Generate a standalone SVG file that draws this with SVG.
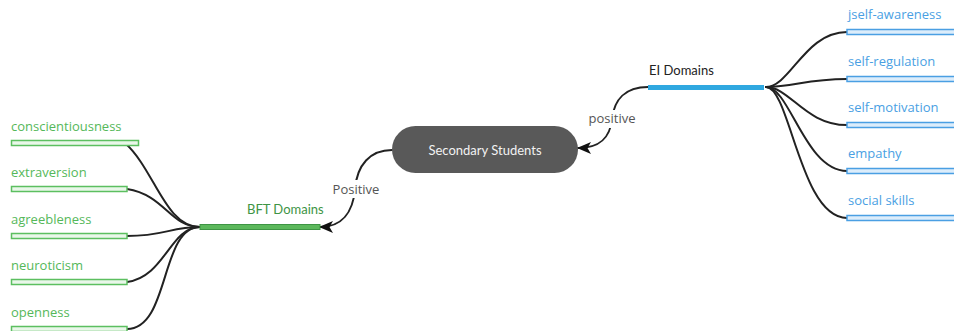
<svg xmlns="http://www.w3.org/2000/svg" width="954" height="331" viewBox="0 0 954 331">
<defs>
<style>
.con{fill:none;stroke:#222;stroke-width:2;stroke-linecap:round}
.lbl{font-family:"Open Sans","Noto Sans",sans-serif;font-size:13px}
.main{font-family:Lato,"Open Sans",sans-serif;font-size:13px}
.blue{fill:#4a9fe3}
.green{fill:#55b85a}
.bbar{fill:#dcedfb;stroke:#4a9fe3;stroke-width:1.5}
.gbar{fill:#e9f7e9;stroke:#5cbf60;stroke-width:1.5}
.rel{font-family:"Open Sans","Noto Sans",sans-serif;font-size:13px;fill:#555;text-anchor:middle}
</style>
<marker id="arr" viewBox="0 0 14 12" refX="13" refY="6" markerWidth="14" markerHeight="12" markerUnits="userSpaceOnUse" orient="auto">
<path d="M0,0 L14,6 L0,12 L3.5,6 Z" fill="#111"/>
</marker>
</defs>
<rect width="954" height="331" fill="#fff"/>

<g id="connectors">
<path class="con" d="M766,87 C790,87 805,32 847,32"/>
<path class="con" d="M766,87 C795,87 805,79 847,79"/>
<path class="con" d="M766,87 C790,87 805,125 847,125"/>
<path class="con" d="M766,87 C790,87 805,171 847,171"/>
<path class="con" d="M766,87 C790,87 800,218 847,218"/>
<path class="con" d="M125,143 C155,170 165,227 200,227"/>
<path class="con" d="M127,189 C165,195 170,227 200,227"/>
<path class="con" d="M127,236 C165,236 170,227 200,227"/>
<path class="con" d="M127,282 C165,277 170,227 200,227"/>
<path class="con" d="M127,329 C170,329 160,227 200,227"/>
<path class="con" d="M648,87 C625,87 614,100 612,119 C610,138 600,148 578,148" marker-end="url(#arr)"/>
<path class="con" d="M392,150 C370,150 357,165 355,189 C353,212 342,227 320,227" marker-end="url(#arr)"/>
<rect x="588" y="110" width="48" height="18" fill="#fff"/>
<text class="rel" x="612" y="123">positive</text>
<rect x="331" y="180" width="50" height="18" fill="#fff"/>
<text class="rel" x="356" y="194">Positive</text>
</g>

<g id="center">
<rect x="392" y="126" width="186" height="47" rx="23.5" fill="#595959"/>
<text class="main" x="485" y="155" fill="#f2f2f2" text-anchor="middle">Secondary Students</text>
</g>

<g id="ei">
<rect x="648" y="85" width="116" height="5" fill="#2fa8e0"/>
<text class="main" x="649" y="75" fill="#222">EI Domains</text>
</g>

<g id="bft">
<rect x="200" y="224.5" width="120" height="5" fill="#5cb85c" stroke="#3e9444" stroke-width="1"/>
<text class="main" x="247" y="214" fill="#3e9444">BFT Domains</text>
</g>

<g id="n-self-awareness"><rect class="bbar" x="847" y="29.5" width="110" height="5"/><text class="lbl blue" x="848" y="19">jself-awareness</text></g>
<g id="n-self-regulation"><rect class="bbar" x="847" y="76.5" width="110" height="5"/><text class="lbl blue" x="848" y="66">self-regulation</text></g>
<g id="n-self-motivation"><rect class="bbar" x="847" y="122.5" width="110" height="5"/><text class="lbl blue" x="848" y="112">self-motivation</text></g>
<g id="n-empathy"><rect class="bbar" x="847" y="168.5" width="110" height="5"/><text class="lbl blue" x="848" y="158">empathy</text></g>
<g id="n-social-skills"><rect class="bbar" x="847" y="215.5" width="110" height="5"/><text class="lbl blue" x="848" y="205">social skills</text></g>

<g id="n-conscientiousness"><rect class="gbar" x="11.5" y="140.5" width="127" height="5"/><text class="lbl green" x="11" y="131">conscientiousness</text></g>
<g id="n-extraversion"><rect class="gbar" x="11.5" y="186.5" width="115.5" height="5"/><text class="lbl green" x="11" y="177">extraversion</text></g>
<g id="n-agreebleness"><rect class="gbar" x="11.5" y="233.5" width="115.5" height="5"/><text class="lbl green" x="11" y="224">agreebleness</text></g>
<g id="n-neuroticism"><rect class="gbar" x="11.5" y="279.5" width="115.5" height="5"/><text class="lbl green" x="11" y="270">neuroticism</text></g>
<g id="n-openness"><rect class="gbar" x="11.5" y="326.5" width="115.5" height="5"/><text class="lbl green" x="11" y="317">openness</text></g>
</svg>
